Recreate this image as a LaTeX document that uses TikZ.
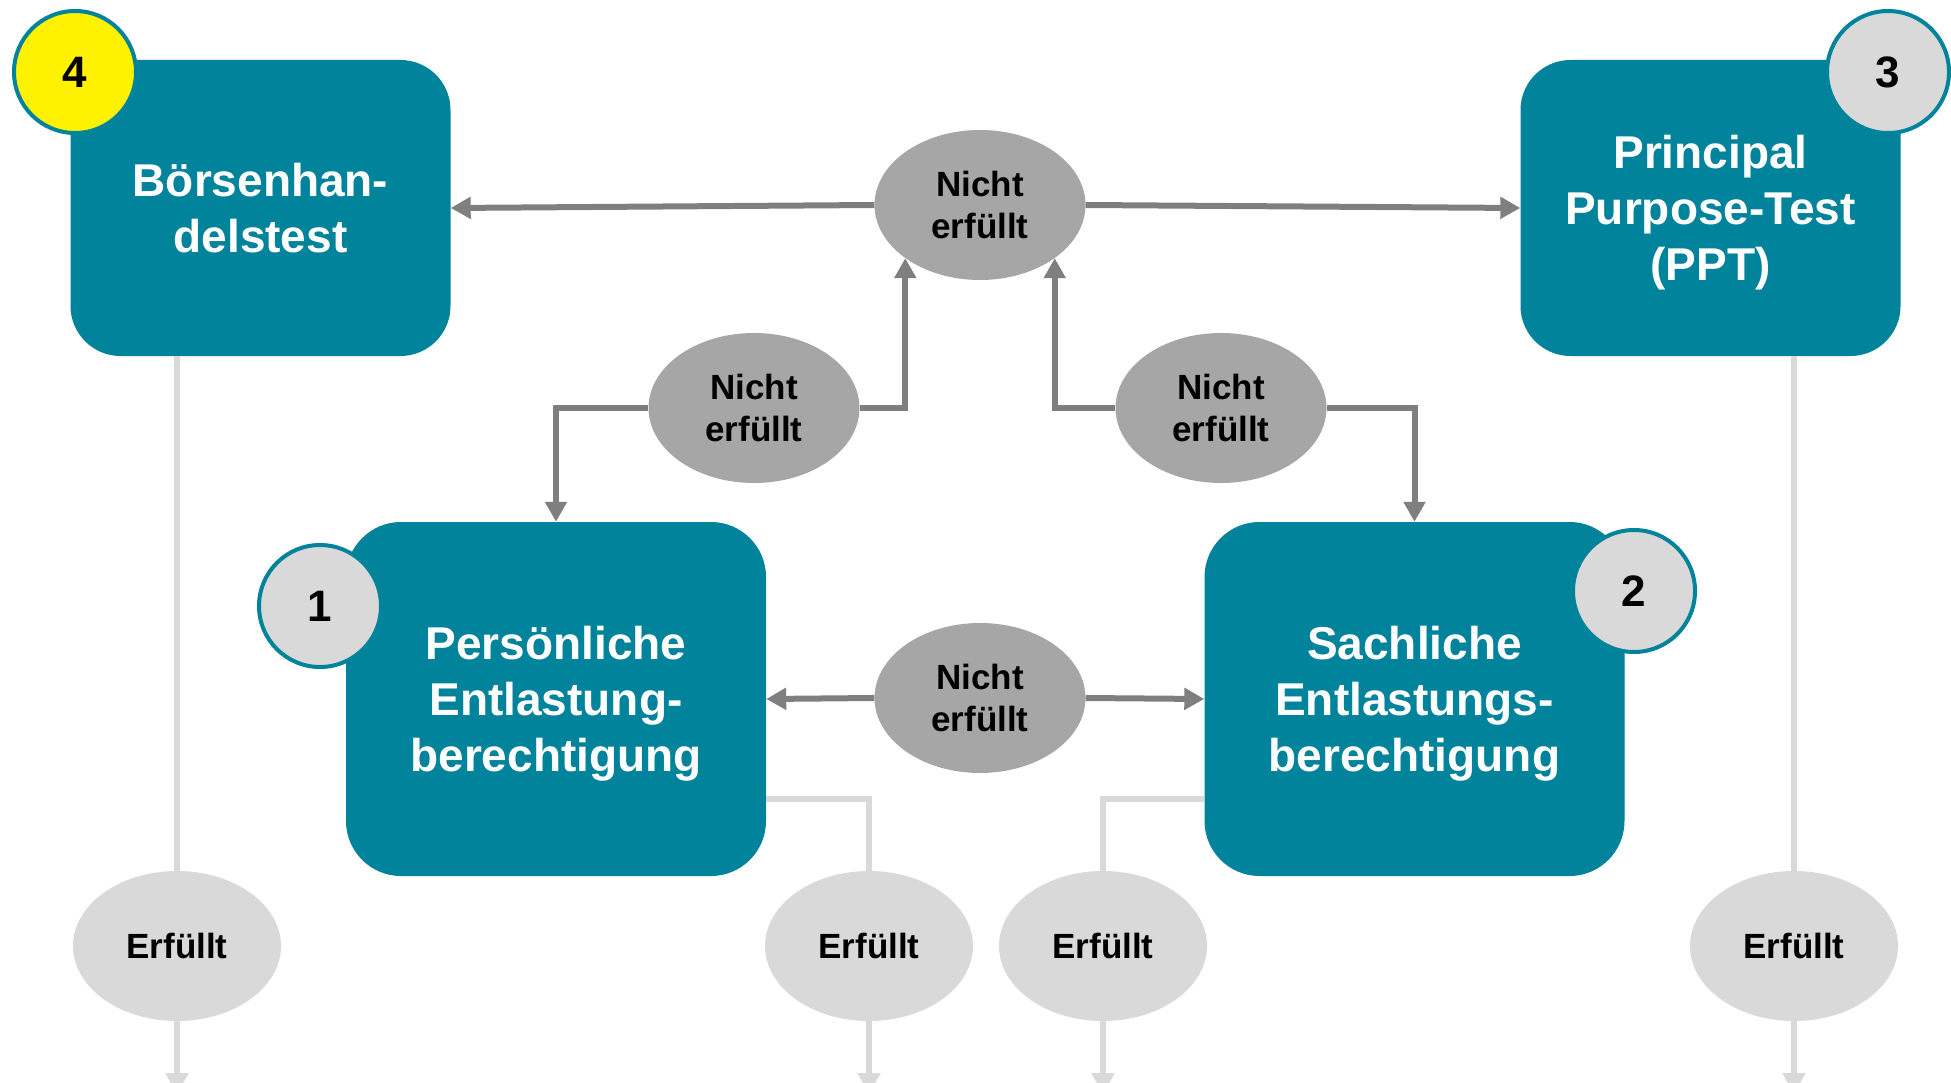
\documentclass[tikz,border=0pt]{standalone}
\usepackage{fontspec}
\setmainfont{Liberation Sans}
\usetikzlibrary{shapes.geometric,arrows.meta}

\definecolor{petrol}{HTML}{00839B}
\definecolor{nfgray}{HTML}{A6A6A6}
\definecolor{okgray}{HTML}{D9D9D9}
\definecolor{linegray}{HTML}{7F7F7F}

\begin{document}
\begin{tikzpicture}[x=1pt, y=-1pt]
    \tikzstyle{box}=[fill=petrol, text=white, rounded corners=50pt, align=center,
                     inner sep=0pt, text depth=0pt,
                     font=\fontsize{46}{56}\selectfont\bfseries]
    \tikzstyle{badge}=[circle, draw=petrol, line width=4pt, minimum size=122pt,
                       inner sep=0pt, font=\fontsize{44}{44}\selectfont\bfseries]
    \tikzstyle{nicht}=[ellipse, fill=nfgray, minimum width=211pt, minimum height=150pt,
                       inner sep=0pt, align=center, font=\fontsize{35}{42}\selectfont\bfseries]
    \tikzstyle{erf}=[ellipse, fill=okgray, minimum width=208pt, minimum height=150pt,
                     inner sep=0pt, font=\fontsize{35}{42}\selectfont\bfseries]
    \tikzstyle{noline}=[draw=linegray, line width=6pt, -{Triangle[width=21pt,length=20pt]}]
    \tikzstyle{okline}=[draw=okgray, line width=6pt]
    \tikzstyle{okarrow}=[okline, -{Triangle[width=22pt,length=21pt]}]

    \useasboundingbox (0,0) rectangle (1951,1083);

    % test boxes
    \node[box, minimum width=380pt, minimum height=296pt] (boerse) at (260.5,208) {Börsenhan-\\delstest};
    \node[box, minimum width=380pt, minimum height=296pt] (ppt)    at (1710.5,208) {Principal\\Purpose-Test\\(PPT)};
    \node[box, minimum width=420pt, minimum height=354pt, rounded corners=55pt] (pers) at (556,699)
        {Persönliche\\Entlastung-\\berechtigung};
    \node[box, minimum width=420pt, minimum height=354pt, rounded corners=55pt] (sach) at (1414.5,699)
        {Sachliche\\Entlastungs-\\berechtigung};

    % step numbers
    \node[badge, fill=yellow] (num4) at (75,72)    {4};
    \node[badge, fill=okgray] (num3) at (1888,72)  {3};
    \node[badge, fill=okgray] (num1) at (320,606)  {1};
    \node[badge, fill=okgray] (num2) at (1634,591) {2};

    % results
    \node[nicht] (nftop) at (980,205)  {Nicht\\erfüllt};
    \node[nicht] (nfl)   at (754,408)  {Nicht\\erfüllt};
    \node[nicht] (nfr)   at (1221,408) {Nicht\\erfüllt};
    \node[nicht] (nfmid) at (980,698)  {Nicht\\erfüllt};

    \foreach \n/\x in {1/177, 2/869, 3/1103, 4/1794} {
        \node[erf] (ok\n) at (\x,946) {Erfüllt};
        \coordinate (end\n) at (\x,1094);
    }

    % not fulfilled
    \draw[noline] (nftop.west) -- (boerse.east);
    \draw[noline] (nftop.east) -- (ppt.west);
    \draw[noline] (nfl.west) -| (pers.north);
    \draw[noline] (nfl.east) -| (nftop.south west);
    \draw[noline] (nfr.west) -| (nftop.south east);
    \draw[noline] (nfr.east) -| (sach.north);
    \draw[noline] (nfmid.west) -- (pers.east);
    \draw[noline] (nfmid.east) -- (sach.west);

    % fulfilled
    \draw[okline] (ok1.north |- boerse.south) -- (ok1.north);
    \draw[okline] (ok4.north |- ppt.south) -- (ok4.north);
    \draw[okline] ([yshift=-100pt]pers.east) -| (ok2.north);
    \draw[okline] ([yshift=-100pt]sach.west) -| (ok3.north);
    \foreach \n in {1,...,4}
        \draw[okarrow] (ok\n) -- (end\n);
\end{tikzpicture}
\end{document}
